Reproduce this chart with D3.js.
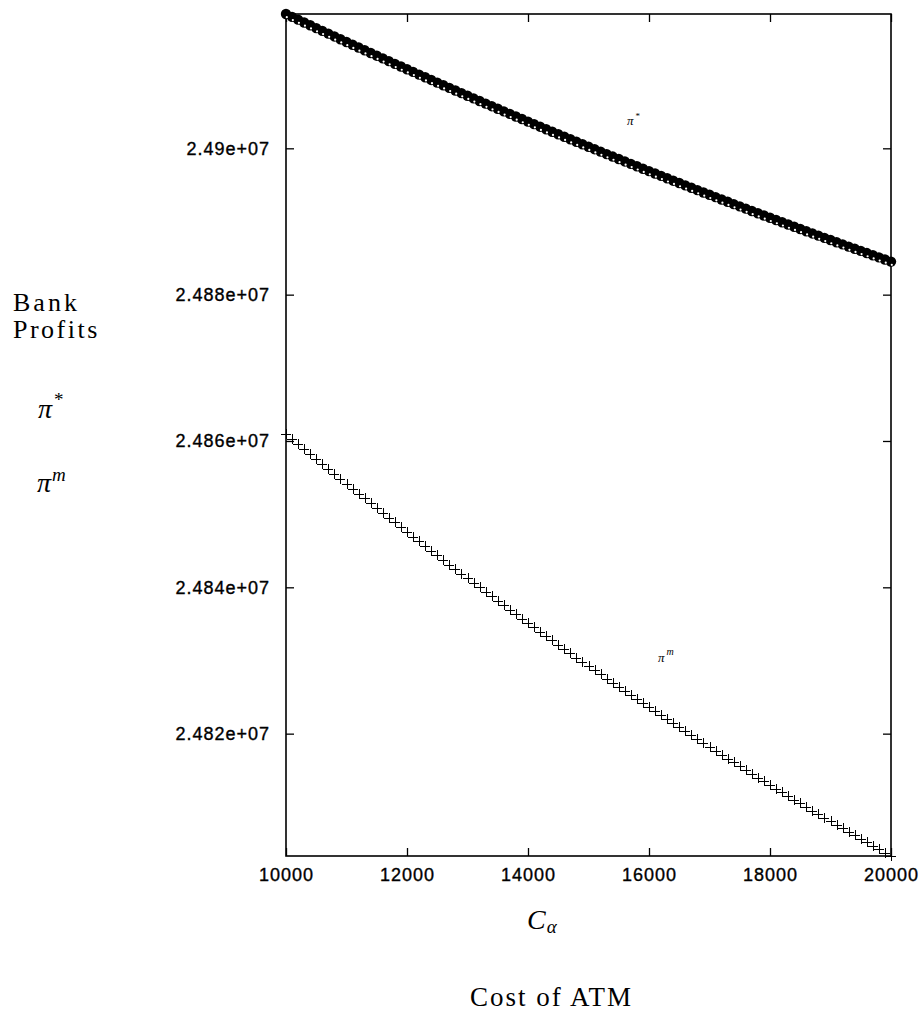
<!DOCTYPE html>
<html lang="en">
<head>
    <meta charset="UTF-8">
    <title>Bank profits vs cost of ATM</title>
    <script src="https://d3js.org/d3.v7.min.js"></script>
    <style>
        body { margin: 0; background: #ffffff; }
        .tick text { font-family: "Liberation Sans", Arial, sans-serif; font-size: 18px; letter-spacing: 1px; fill: #000; stroke: #000; stroke-width: 0.35px; }
        .tick line { stroke: #000; stroke-width: 1.3; }
        .tex { font-family: "Liberation Serif", "Times New Roman", serif; fill: #000; }
    </style>
</head>
<body>
<svg id="chart" width="924" height="1014"></svg>
<script>
  // Cost of ATM (x) and the two profit series
  var costs = [];
  for (var c = 10000; c <= 20000; c += 100) costs.push(c);

  var piStar = [
    24918358, 24917971, 24917586, 24917201, 24916817, 24916434, 24916053, 24915672, 24915292, 24914913,
    24914535, 24914158, 24913782, 24913407, 24913033, 24912660, 24912288, 24911917, 24911547, 24911178,
    24910810, 24910443, 24910077, 24909711, 24909347, 24908984, 24908622, 24908260, 24907900, 24907541,
    24907182, 24906825, 24906468, 24906113, 24905758, 24905405, 24905052, 24904701, 24904350, 24904001,
    24903652, 24903304, 24902958, 24902612, 24902267, 24901923, 24901581, 24901239, 24900898, 24900558,
    24900219, 24899881, 24899544, 24899209, 24898874, 24898540, 24898207, 24897874, 24897543, 24897213,
    24896884, 24896556, 24896229, 24895903, 24895577, 24895253, 24894930, 24894608, 24894286, 24893966,
    24893647, 24893328, 24893011, 24892694, 24892379, 24892064, 24891751, 24891438, 24891127, 24890816,
    24890507, 24890198, 24889890, 24889584, 24889278, 24888973, 24888669, 24888367, 24888065, 24887764,
    24887464, 24887165, 24886867, 24886570, 24886274, 24885979, 24885685, 24885392, 24885100, 24884809,
    24884519
  ];

  var piM = [
    24860955, 24860264, 24859576, 24858890, 24858206, 24857525, 24856845, 24856168, 24855494, 24854822,
    24854152, 24853484, 24852819, 24852155, 24851495, 24850836, 24850180, 24849526, 24848875, 24848225,
    24847578, 24846934, 24846291, 24845651, 24845014, 24844378, 24843745, 24843114, 24842485, 24841859,
    24841235, 24840614, 24839994, 24839377, 24838762, 24838150, 24837540, 24836932, 24836326, 24835723,
    24835122, 24834524, 24833927, 24833333, 24832742, 24832152, 24831565, 24830980, 24830398, 24829817,
    24829240, 24828664, 24828091, 24827520, 24826951, 24826384, 24825820, 24825259, 24824699, 24824142,
    24823587, 24823034, 24822484, 24821936, 24821390, 24820847, 24820306, 24819767, 24819230, 24818696,
    24818164, 24817635, 24817107, 24816583, 24816060, 24815540, 24815021, 24814506, 24813992, 24813481,
    24812972, 24812466, 24811961, 24811459, 24810960, 24810462, 24809967, 24809475, 24808984, 24808496,
    24808010, 24807526, 24807045, 24806566, 24806090, 24805615, 24805143, 24804673, 24804206, 24803741,
    24803278
  ];

  var xTicks = [10000, 12000, 14000, 16000, 18000, 20000];
  var xTickLabels = ["10000", "12000", "14000", "16000", "18000", "20000"];
  var yTicks = [24820000, 24840000, 24860000, 24880000, 24900000];
  var yTickLabels = ["2.482e+07", "2.484e+07", "2.486e+07", "2.488e+07", "2.49e+07"];

  var svg = d3.select("#chart");
  var plotLeft = 286, plotRight = 891, plotTop = 14, plotBottom = 856;

  var x = d3.scaleLinear().domain([10000, 20000]).range([plotLeft, plotRight]);
  var y = d3.scaleLinear().domain([d3.min(piM), d3.max(piStar)]).range([plotBottom, plotTop]);

  // axes, ticks pointing inwards (gnuplot style)
  svg.append("g")
    .attr("transform", "translate(" + plotLeft + ",0)")
    .call(d3.axisLeft(y).tickValues(yTicks).tickSizeInner(-8).tickSizeOuter(0).tickPadding(16)
      .tickFormat(function (d, i) { return yTickLabels[i]; }))
    .call(function (g) { g.select(".domain").remove(); });

  svg.append("g")
    .attr("transform", "translate(" + plotRight + ",0)")
    .call(d3.axisRight(y).tickValues(yTicks).tickSizeInner(-8).tickSizeOuter(0).tickFormat(""))
    .call(function (g) { g.select(".domain").remove(); });

  svg.append("g")
    .attr("transform", "translate(0," + plotBottom + ")")
    .call(d3.axisBottom(x).tickValues(xTicks).tickSizeInner(-8).tickSizeOuter(0).tickPadding(12)
      .tickFormat(function (d, i) { return xTickLabels[i]; }))
    .call(function (g) { g.select(".domain").remove(); });

  svg.append("g")
    .attr("transform", "translate(0," + plotTop + ")")
    .call(d3.axisTop(x).tickValues(xTicks).tickSizeInner(-8).tickSizeOuter(0).tickFormat(""))
    .call(function (g) { g.select(".domain").remove(); });

  svg.selectAll(".tick text").attr("font-family", null).attr("font-size", null);

  svg.append("rect")
    .attr("x", plotLeft).attr("y", plotTop)
    .attr("width", plotRight - plotLeft).attr("height", plotBottom - plotTop)
    .attr("fill", "none").attr("stroke", "#000").attr("stroke-width", 1.6);

  // pi* : heavy circles
  svg.append("g")
    .selectAll("circle")
    .data(piStar)
    .enter()
    .append("circle")
    .attr("cx", function (d, i) { return x(costs[i]); })
    .attr("cy", function (d) { return y(d); })
    .attr("r", 5.2)
    .attr("fill", "#000");

  svg.append("g")
    .selectAll("circle")
    .data(piStar)
    .enter()
    .append("circle")
    .attr("cx", function (d, i) { return x(costs[i]) + 0.8; })
    .attr("cy", function (d) { return y(d) + 3.2; })
    .attr("r", 1.1)
    .attr("fill", "#fff");

  // pi^m : plus signs
  svg.append("g")
    .attr("shape-rendering", "crispEdges")
    .selectAll("path")
    .data(piM)
    .enter()
    .append("path")
    .attr("d", "M-5,0H5M0,-5V5")
    .attr("transform", function (d, i) {
      return "translate(" + Math.round(x(costs[i])) + "," + Math.round(y(d)) + ")";
    })
    .attr("stroke", "#000")
    .attr("stroke-width", 1)
    .attr("fill", "none");

  // curve labels
  var t1 = svg.append("text").attr("class", "tex").attr("x", 627).attr("y", 125);
  t1.append("tspan").attr("font-size", 13).attr("font-style", "italic").text("π");
  t1.append("tspan").attr("font-size", 9).attr("dx", 2).attr("dy", -6).text("*");

  var t2 = svg.append("text").attr("class", "tex").attr("x", 658).attr("y", 662);
  t2.append("tspan").attr("font-size", 13).attr("font-style", "italic").text("π");
  t2.append("tspan").attr("font-size", 10).attr("font-style", "italic").attr("dx", 2).attr("dy", -7).text("m");

  // y axis title (left side)
  svg.append("text").attr("class", "tex").attr("x", 13).attr("y", 311)
    .attr("font-size", 26).attr("letter-spacing", 3).text("Bank");
  svg.append("text").attr("class", "tex").attr("x", 13).attr("y", 338)
    .attr("font-size", 26).attr("letter-spacing", 2.5).text("Profits");

  var t3 = svg.append("text").attr("class", "tex").attr("x", 38).attr("y", 418);
  t3.append("tspan").attr("font-size", 28).attr("font-style", "italic").text("π");
  t3.append("tspan").attr("font-size", 19).attr("dx", 2).attr("dy", -12).text("*");

  var t4 = svg.append("text").attr("class", "tex").attr("x", 37).attr("y", 492);
  t4.append("tspan").attr("font-size", 28).attr("font-style", "italic").text("π");
  t4.append("tspan").attr("font-size", 19).attr("font-style", "italic").attr("dx", 1).attr("dy", -11).text("m");

  // x axis titles
  var t5 = svg.append("text").attr("class", "tex").attr("x", 527).attr("y", 929);
  t5.append("tspan").attr("font-size", 28).attr("font-style", "italic").text("C");
  t5.append("tspan").attr("font-size", 19).attr("font-style", "italic").attr("dx", 1).attr("dy", 4).text("α");

  svg.append("text").attr("class", "tex").attr("x", 470).attr("y", 1006)
    .attr("font-size", 27).attr("letter-spacing", 2).text("Cost of ATM");
</script>
</body>
</html>
